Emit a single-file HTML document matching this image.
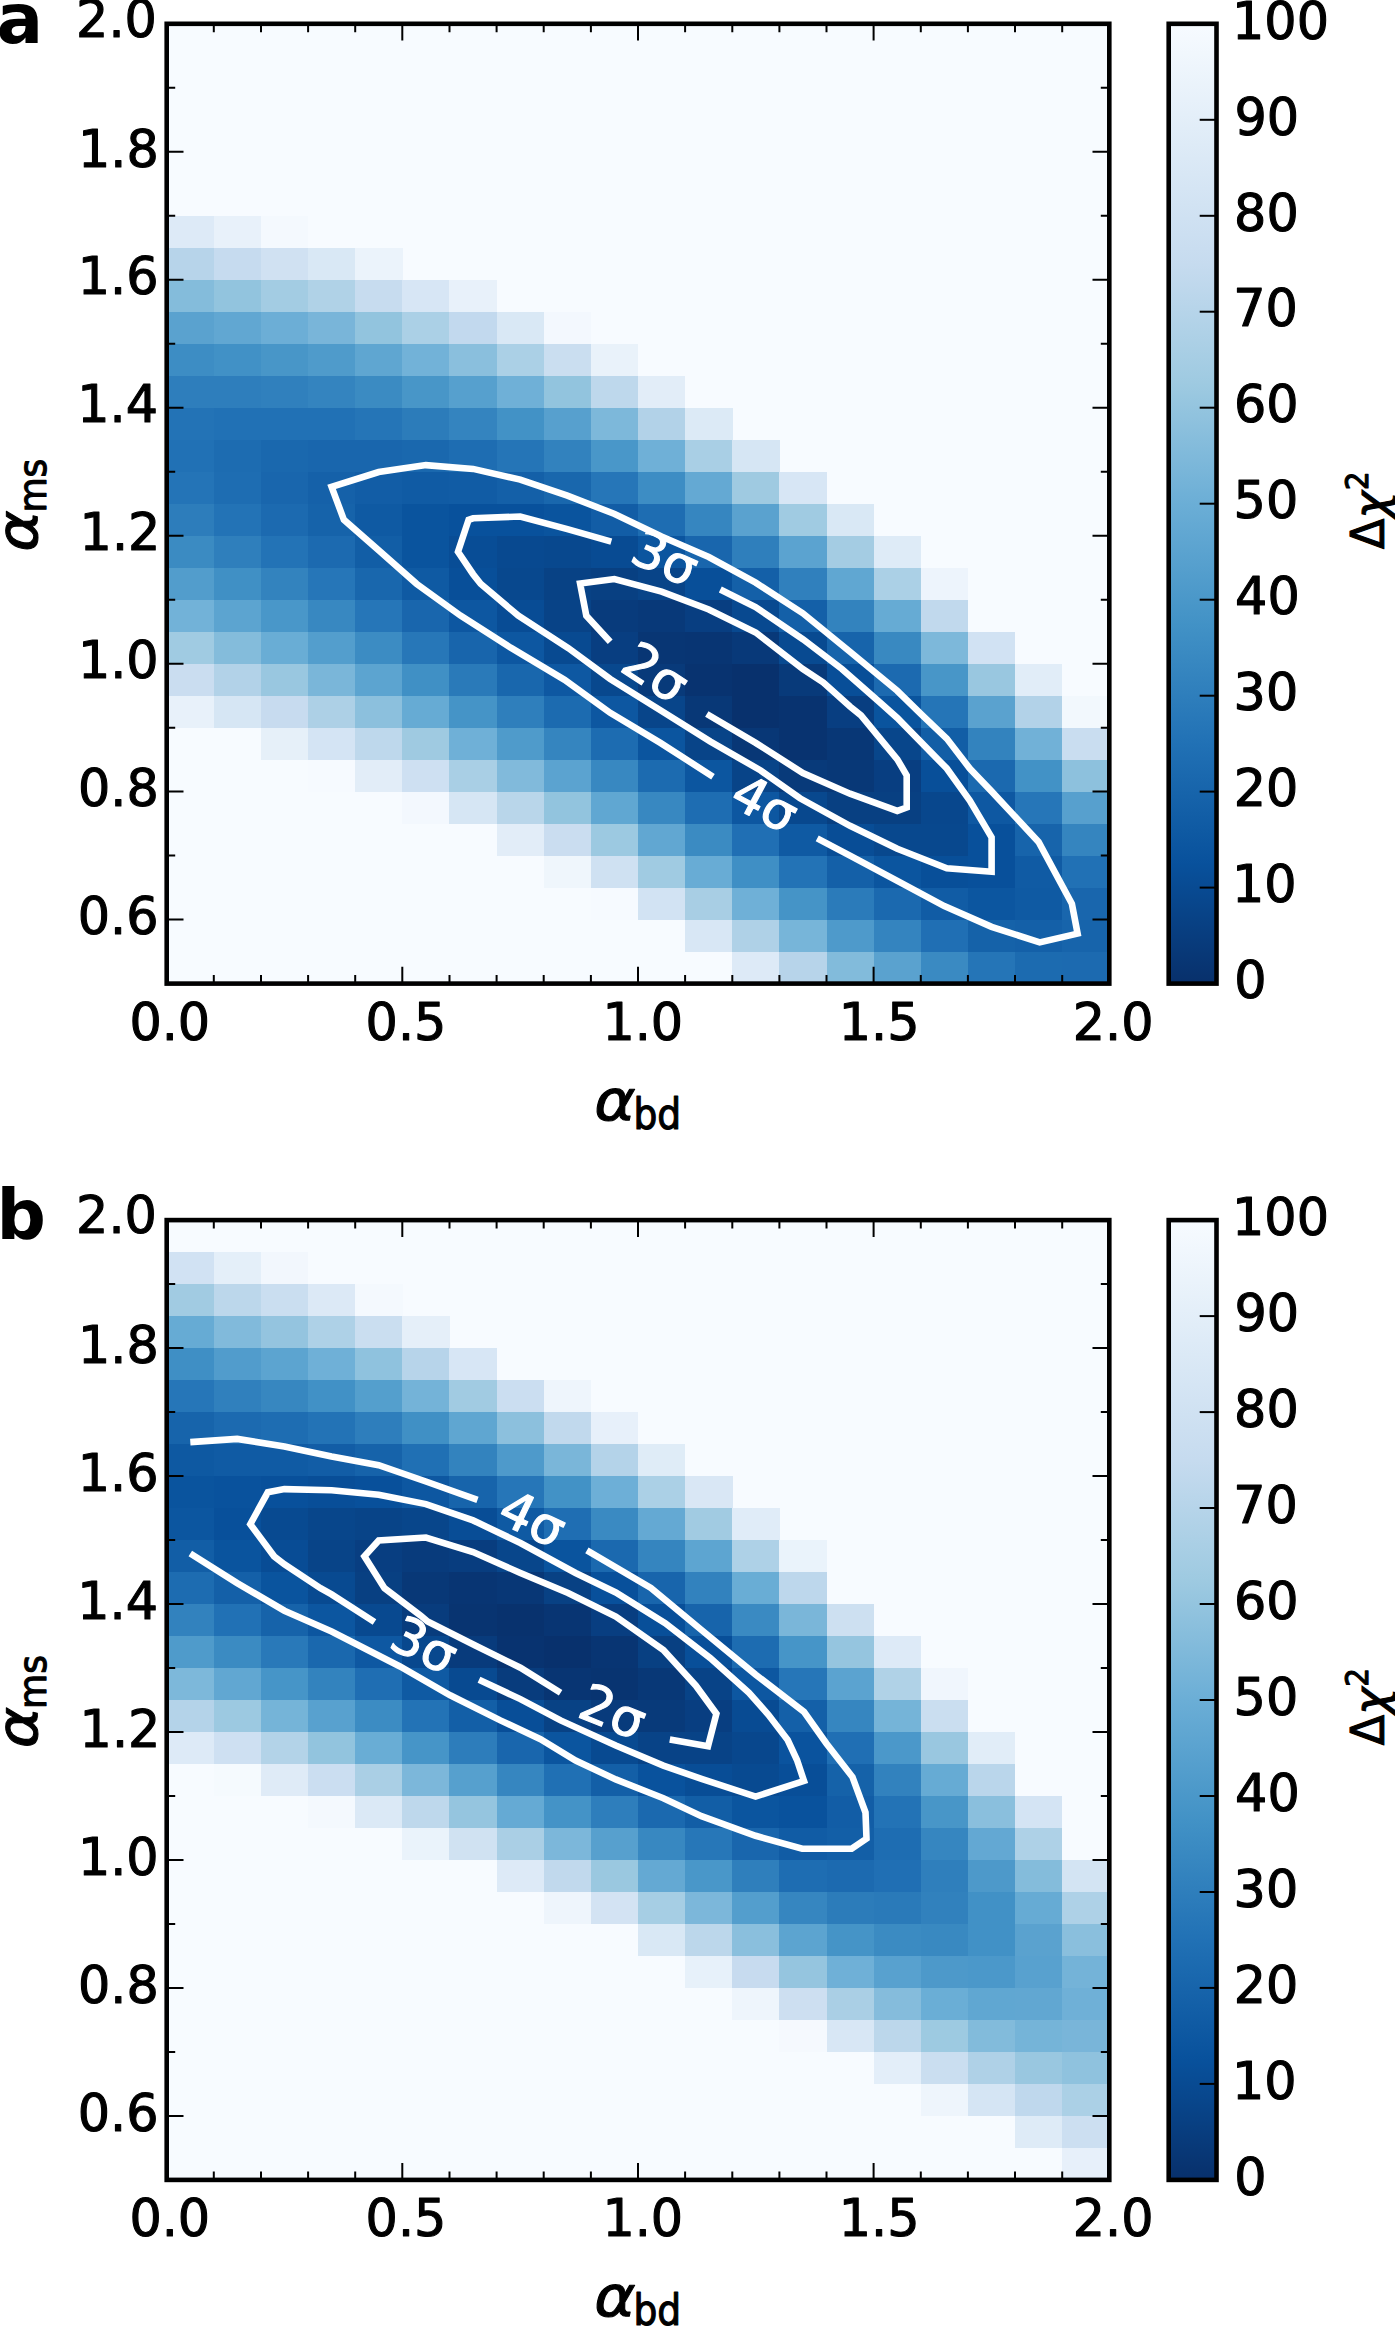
<!DOCTYPE html>
<html><head><meta charset="utf-8"><title>Delta chi2 maps</title>
<style>html,body{margin:0;padding:0;background:#fff}svg{display:block}text{font-family:"DejaVu Sans","Liberation Sans",sans-serif}</style></head><body>
<svg width="1395" height="2326" viewBox="0 0 1395 2326">
<defs><linearGradient id="cb" x1="0" y1="0" x2="0" y2="1">
<stop offset="0.0000" stop-color="#f7fbff"/>
<stop offset="0.1250" stop-color="#deebf7"/>
<stop offset="0.2500" stop-color="#c6dbef"/>
<stop offset="0.3750" stop-color="#9ecae1"/>
<stop offset="0.5000" stop-color="#6baed6"/>
<stop offset="0.6250" stop-color="#4292c6"/>
<stop offset="0.7500" stop-color="#2171b5"/>
<stop offset="0.8750" stop-color="#08519c"/>
<stop offset="1.0000" stop-color="#08306b"/>
</linearGradient></defs>
<rect width="1395" height="2326" fill="#fff"/>
<g>
<rect x="166.7" y="23.8" width="942.6" height="959.8" fill="#f7fbff"/>
<g shape-rendering="crispEdges">
<rect x="166.70" y="215.76" width="47.43" height="32.29" fill="#ddeaf7"/>
<rect x="213.83" y="215.76" width="47.43" height="32.29" fill="#e8f1fa"/>
<rect x="260.96" y="215.76" width="47.43" height="32.29" fill="#f4f9fe"/>
<rect x="166.70" y="247.75" width="47.43" height="32.29" fill="#b7d4ea"/>
<rect x="213.83" y="247.75" width="47.43" height="32.29" fill="#c6dbef"/>
<rect x="260.96" y="247.75" width="47.43" height="32.29" fill="#d0e1f2"/>
<rect x="308.09" y="247.75" width="47.43" height="32.29" fill="#d9e8f5"/>
<rect x="355.22" y="247.75" width="47.43" height="32.29" fill="#ebf3fb"/>
<rect x="166.70" y="279.75" width="47.43" height="32.29" fill="#84bcdb"/>
<rect x="213.83" y="279.75" width="47.43" height="32.29" fill="#92c4de"/>
<rect x="260.96" y="279.75" width="47.43" height="32.29" fill="#a3cce3"/>
<rect x="308.09" y="279.75" width="47.43" height="32.29" fill="#b0d2e7"/>
<rect x="355.22" y="279.75" width="47.43" height="32.29" fill="#c7dcef"/>
<rect x="402.35" y="279.75" width="47.43" height="32.29" fill="#d7e6f5"/>
<rect x="449.48" y="279.75" width="47.43" height="32.29" fill="#e8f1fa"/>
<rect x="166.70" y="311.74" width="47.43" height="32.29" fill="#5aa2cf"/>
<rect x="213.83" y="311.74" width="47.43" height="32.29" fill="#61a7d2"/>
<rect x="260.96" y="311.74" width="47.43" height="32.29" fill="#6caed6"/>
<rect x="308.09" y="311.74" width="47.43" height="32.29" fill="#79b5d9"/>
<rect x="355.22" y="311.74" width="47.43" height="32.29" fill="#92c4de"/>
<rect x="402.35" y="311.74" width="47.43" height="32.29" fill="#abd0e6"/>
<rect x="449.48" y="311.74" width="47.43" height="32.29" fill="#c2d9ee"/>
<rect x="496.61" y="311.74" width="47.43" height="32.29" fill="#d9e8f5"/>
<rect x="543.74" y="311.74" width="47.43" height="32.29" fill="#f3f8fe"/>
<rect x="166.70" y="343.73" width="47.43" height="32.29" fill="#3d8dc4"/>
<rect x="213.83" y="343.73" width="47.43" height="32.29" fill="#4191c6"/>
<rect x="260.96" y="343.73" width="47.43" height="32.29" fill="#4896c8"/>
<rect x="308.09" y="343.73" width="47.43" height="32.29" fill="#4f9bcb"/>
<rect x="355.22" y="343.73" width="47.43" height="32.29" fill="#5fa6d1"/>
<rect x="402.35" y="343.73" width="47.43" height="32.29" fill="#72b2d8"/>
<rect x="449.48" y="343.73" width="47.43" height="32.29" fill="#8abfdd"/>
<rect x="496.61" y="343.73" width="47.43" height="32.29" fill="#abd0e6"/>
<rect x="543.74" y="343.73" width="47.43" height="32.29" fill="#cadef0"/>
<rect x="590.87" y="343.73" width="47.43" height="32.29" fill="#e9f2fa"/>
<rect x="166.70" y="375.73" width="47.43" height="32.29" fill="#2e7ebc"/>
<rect x="213.83" y="375.73" width="47.43" height="32.29" fill="#2e7ebc"/>
<rect x="260.96" y="375.73" width="47.43" height="32.29" fill="#3080bd"/>
<rect x="308.09" y="375.73" width="47.43" height="32.29" fill="#3484bf"/>
<rect x="355.22" y="375.73" width="47.43" height="32.29" fill="#3b8bc2"/>
<rect x="402.35" y="375.73" width="47.43" height="32.29" fill="#4896c8"/>
<rect x="449.48" y="375.73" width="47.43" height="32.29" fill="#56a0ce"/>
<rect x="496.61" y="375.73" width="47.43" height="32.29" fill="#6fb0d7"/>
<rect x="543.74" y="375.73" width="47.43" height="32.29" fill="#92c4de"/>
<rect x="590.87" y="375.73" width="47.43" height="32.29" fill="#bed8ec"/>
<rect x="638.00" y="375.73" width="47.43" height="32.29" fill="#e2edf8"/>
<rect x="166.70" y="407.72" width="47.43" height="32.29" fill="#2373b6"/>
<rect x="213.83" y="407.72" width="47.43" height="32.29" fill="#2171b5"/>
<rect x="260.96" y="407.72" width="47.43" height="32.29" fill="#2171b5"/>
<rect x="308.09" y="407.72" width="47.43" height="32.29" fill="#2171b5"/>
<rect x="355.22" y="407.72" width="47.43" height="32.29" fill="#2575b7"/>
<rect x="402.35" y="407.72" width="47.43" height="32.29" fill="#2c7cba"/>
<rect x="449.48" y="407.72" width="47.43" height="32.29" fill="#3484bf"/>
<rect x="496.61" y="407.72" width="47.43" height="32.29" fill="#4292c6"/>
<rect x="543.74" y="407.72" width="47.43" height="32.29" fill="#57a0ce"/>
<rect x="590.87" y="407.72" width="47.43" height="32.29" fill="#7db8da"/>
<rect x="638.00" y="407.72" width="47.43" height="32.29" fill="#b2d2e8"/>
<rect x="685.13" y="407.72" width="47.43" height="32.29" fill="#dceaf6"/>
<rect x="166.70" y="439.71" width="47.43" height="32.29" fill="#2171b5"/>
<rect x="213.83" y="439.71" width="47.43" height="32.29" fill="#1d6cb1"/>
<rect x="260.96" y="439.71" width="47.43" height="32.29" fill="#1a68ae"/>
<rect x="308.09" y="439.71" width="47.43" height="32.29" fill="#1966ad"/>
<rect x="355.22" y="439.71" width="47.43" height="32.29" fill="#1966ad"/>
<rect x="402.35" y="439.71" width="47.43" height="32.29" fill="#1a68ae"/>
<rect x="449.48" y="439.71" width="47.43" height="32.29" fill="#1e6db2"/>
<rect x="496.61" y="439.71" width="47.43" height="32.29" fill="#2575b7"/>
<rect x="543.74" y="439.71" width="47.43" height="32.29" fill="#3282be"/>
<rect x="590.87" y="439.71" width="47.43" height="32.29" fill="#4997c9"/>
<rect x="638.00" y="439.71" width="47.43" height="32.29" fill="#6fb0d7"/>
<rect x="685.13" y="439.71" width="47.43" height="32.29" fill="#a9cfe5"/>
<rect x="732.26" y="439.71" width="47.43" height="32.29" fill="#d6e6f4"/>
<rect x="166.70" y="471.71" width="47.43" height="32.29" fill="#2474b7"/>
<rect x="213.83" y="471.71" width="47.43" height="32.29" fill="#1e6db2"/>
<rect x="260.96" y="471.71" width="47.43" height="32.29" fill="#1966ad"/>
<rect x="308.09" y="471.71" width="47.43" height="32.29" fill="#1561a9"/>
<rect x="355.22" y="471.71" width="47.43" height="32.29" fill="#125da6"/>
<rect x="402.35" y="471.71" width="47.43" height="32.29" fill="#105ba4"/>
<rect x="449.48" y="471.71" width="47.43" height="32.29" fill="#115ca5"/>
<rect x="496.61" y="471.71" width="47.43" height="32.29" fill="#1460a8"/>
<rect x="543.74" y="471.71" width="47.43" height="32.29" fill="#1967ad"/>
<rect x="590.87" y="471.71" width="47.43" height="32.29" fill="#2676b8"/>
<rect x="638.00" y="471.71" width="47.43" height="32.29" fill="#3d8dc4"/>
<rect x="685.13" y="471.71" width="47.43" height="32.29" fill="#64a9d3"/>
<rect x="732.26" y="471.71" width="47.43" height="32.29" fill="#9fcae1"/>
<rect x="779.39" y="471.71" width="47.43" height="32.29" fill="#d7e6f5"/>
<rect x="166.70" y="503.70" width="47.43" height="32.29" fill="#2d7dbb"/>
<rect x="213.83" y="503.70" width="47.43" height="32.29" fill="#2373b6"/>
<rect x="260.96" y="503.70" width="47.43" height="32.29" fill="#1c6ab0"/>
<rect x="308.09" y="503.70" width="47.43" height="32.29" fill="#1663aa"/>
<rect x="355.22" y="503.70" width="47.43" height="32.29" fill="#0f5aa3"/>
<rect x="402.35" y="503.70" width="47.43" height="32.29" fill="#0a549e"/>
<rect x="449.48" y="503.70" width="47.43" height="32.29" fill="#08519c"/>
<rect x="496.61" y="503.70" width="47.43" height="32.29" fill="#08519c"/>
<rect x="543.74" y="503.70" width="47.43" height="32.29" fill="#0a549e"/>
<rect x="590.87" y="503.70" width="47.43" height="32.29" fill="#125da6"/>
<rect x="638.00" y="503.70" width="47.43" height="32.29" fill="#1e6db2"/>
<rect x="685.13" y="503.70" width="47.43" height="32.29" fill="#3686c0"/>
<rect x="732.26" y="503.70" width="47.43" height="32.29" fill="#5aa2cf"/>
<rect x="779.39" y="503.70" width="47.43" height="32.29" fill="#a0cbe2"/>
<rect x="826.52" y="503.70" width="47.43" height="32.29" fill="#d9e8f5"/>
<rect x="166.70" y="535.69" width="47.43" height="32.29" fill="#3b8bc2"/>
<rect x="213.83" y="535.69" width="47.43" height="32.29" fill="#2f7fbc"/>
<rect x="260.96" y="535.69" width="47.43" height="32.29" fill="#2373b6"/>
<rect x="308.09" y="535.69" width="47.43" height="32.29" fill="#1c6ab0"/>
<rect x="355.22" y="535.69" width="47.43" height="32.29" fill="#125ea6"/>
<rect x="402.35" y="535.69" width="47.43" height="32.29" fill="#0a549e"/>
<rect x="449.48" y="535.69" width="47.43" height="32.29" fill="#084d96"/>
<rect x="496.61" y="535.69" width="47.43" height="32.29" fill="#084990"/>
<rect x="543.74" y="535.69" width="47.43" height="32.29" fill="#08488e"/>
<rect x="590.87" y="535.69" width="47.43" height="32.29" fill="#084b93"/>
<rect x="638.00" y="535.69" width="47.43" height="32.29" fill="#0b559f"/>
<rect x="685.13" y="535.69" width="47.43" height="32.29" fill="#1966ad"/>
<rect x="732.26" y="535.69" width="47.43" height="32.29" fill="#2f7fbc"/>
<rect x="779.39" y="535.69" width="47.43" height="32.29" fill="#5ba3d0"/>
<rect x="826.52" y="535.69" width="47.43" height="32.29" fill="#a4cce3"/>
<rect x="873.65" y="535.69" width="47.43" height="32.29" fill="#deebf7"/>
<rect x="166.70" y="567.69" width="47.43" height="32.29" fill="#529dcc"/>
<rect x="213.83" y="567.69" width="47.43" height="32.29" fill="#4090c5"/>
<rect x="260.96" y="567.69" width="47.43" height="32.29" fill="#3383be"/>
<rect x="308.09" y="567.69" width="47.43" height="32.29" fill="#2676b8"/>
<rect x="355.22" y="567.69" width="47.43" height="32.29" fill="#1967ad"/>
<rect x="402.35" y="567.69" width="47.43" height="32.29" fill="#0f5aa3"/>
<rect x="449.48" y="567.69" width="47.43" height="32.29" fill="#084f99"/>
<rect x="496.61" y="567.69" width="47.43" height="32.29" fill="#08488e"/>
<rect x="543.74" y="567.69" width="47.43" height="32.29" fill="#084285"/>
<rect x="590.87" y="567.69" width="47.43" height="32.29" fill="#084082"/>
<rect x="638.00" y="567.69" width="47.43" height="32.29" fill="#084488"/>
<rect x="685.13" y="567.69" width="47.43" height="32.29" fill="#084f99"/>
<rect x="732.26" y="567.69" width="47.43" height="32.29" fill="#1460a8"/>
<rect x="779.39" y="567.69" width="47.43" height="32.29" fill="#3080bd"/>
<rect x="826.52" y="567.69" width="47.43" height="32.29" fill="#60a7d2"/>
<rect x="873.65" y="567.69" width="47.43" height="32.29" fill="#abd0e6"/>
<rect x="920.78" y="567.69" width="47.43" height="32.29" fill="#edf4fc"/>
<rect x="166.70" y="599.68" width="47.43" height="32.29" fill="#72b2d8"/>
<rect x="213.83" y="599.68" width="47.43" height="32.29" fill="#5ca4d0"/>
<rect x="260.96" y="599.68" width="47.43" height="32.29" fill="#4997c9"/>
<rect x="308.09" y="599.68" width="47.43" height="32.29" fill="#3888c1"/>
<rect x="355.22" y="599.68" width="47.43" height="32.29" fill="#2676b8"/>
<rect x="402.35" y="599.68" width="47.43" height="32.29" fill="#1966ad"/>
<rect x="449.48" y="599.68" width="47.43" height="32.29" fill="#0d57a1"/>
<rect x="496.61" y="599.68" width="47.43" height="32.29" fill="#084c95"/>
<rect x="543.74" y="599.68" width="47.43" height="32.29" fill="#084387"/>
<rect x="590.87" y="599.68" width="47.43" height="32.29" fill="#083b7c"/>
<rect x="638.00" y="599.68" width="47.43" height="32.29" fill="#083979"/>
<rect x="685.13" y="599.68" width="47.43" height="32.29" fill="#083e81"/>
<rect x="732.26" y="599.68" width="47.43" height="32.29" fill="#084990"/>
<rect x="779.39" y="599.68" width="47.43" height="32.29" fill="#1460a8"/>
<rect x="826.52" y="599.68" width="47.43" height="32.29" fill="#3383be"/>
<rect x="873.65" y="599.68" width="47.43" height="32.29" fill="#66abd4"/>
<rect x="920.78" y="599.68" width="47.43" height="32.29" fill="#c1d9ed"/>
<rect x="166.70" y="631.67" width="47.43" height="32.29" fill="#a0cbe2"/>
<rect x="213.83" y="631.67" width="47.43" height="32.29" fill="#84bcdb"/>
<rect x="260.96" y="631.67" width="47.43" height="32.29" fill="#69add5"/>
<rect x="308.09" y="631.67" width="47.43" height="32.29" fill="#539ecd"/>
<rect x="355.22" y="631.67" width="47.43" height="32.29" fill="#3c8cc3"/>
<rect x="402.35" y="631.67" width="47.43" height="32.29" fill="#2777b8"/>
<rect x="449.48" y="631.67" width="47.43" height="32.29" fill="#1865ac"/>
<rect x="496.61" y="631.67" width="47.43" height="32.29" fill="#0d57a1"/>
<rect x="543.74" y="631.67" width="47.43" height="32.29" fill="#084a91"/>
<rect x="590.87" y="631.67" width="47.43" height="32.29" fill="#083e81"/>
<rect x="638.00" y="631.67" width="47.43" height="32.29" fill="#083674"/>
<rect x="685.13" y="631.67" width="47.43" height="32.29" fill="#083573"/>
<rect x="732.26" y="631.67" width="47.43" height="32.29" fill="#083979"/>
<rect x="779.39" y="631.67" width="47.43" height="32.29" fill="#084a91"/>
<rect x="826.52" y="631.67" width="47.43" height="32.29" fill="#1764ab"/>
<rect x="873.65" y="631.67" width="47.43" height="32.29" fill="#3989c1"/>
<rect x="920.78" y="631.67" width="47.43" height="32.29" fill="#7db8da"/>
<rect x="967.91" y="631.67" width="47.43" height="32.29" fill="#d1e2f3"/>
<rect x="166.70" y="663.67" width="47.43" height="32.29" fill="#caddf0"/>
<rect x="213.83" y="663.67" width="47.43" height="32.29" fill="#b2d2e8"/>
<rect x="260.96" y="663.67" width="47.43" height="32.29" fill="#99c7e0"/>
<rect x="308.09" y="663.67" width="47.43" height="32.29" fill="#7ab6d9"/>
<rect x="355.22" y="663.67" width="47.43" height="32.29" fill="#5ca4d0"/>
<rect x="402.35" y="663.67" width="47.43" height="32.29" fill="#4090c5"/>
<rect x="449.48" y="663.67" width="47.43" height="32.29" fill="#2a7ab9"/>
<rect x="496.61" y="663.67" width="47.43" height="32.29" fill="#1967ad"/>
<rect x="543.74" y="663.67" width="47.43" height="32.29" fill="#0e58a2"/>
<rect x="590.87" y="663.67" width="47.43" height="32.29" fill="#08488e"/>
<rect x="638.00" y="663.67" width="47.43" height="32.29" fill="#083a7a"/>
<rect x="685.13" y="663.67" width="47.43" height="32.29" fill="#083370"/>
<rect x="732.26" y="663.67" width="47.43" height="32.29" fill="#08316d"/>
<rect x="779.39" y="663.67" width="47.43" height="32.29" fill="#083a7a"/>
<rect x="826.52" y="663.67" width="47.43" height="32.29" fill="#084e98"/>
<rect x="873.65" y="663.67" width="47.43" height="32.29" fill="#1c6ab0"/>
<rect x="920.78" y="663.67" width="47.43" height="32.29" fill="#4896c8"/>
<rect x="967.91" y="663.67" width="47.43" height="32.29" fill="#99c7e0"/>
<rect x="1015.04" y="663.67" width="47.43" height="32.29" fill="#e1edf8"/>
<rect x="166.70" y="695.66" width="47.43" height="32.29" fill="#e8f1fa"/>
<rect x="213.83" y="695.66" width="47.43" height="32.29" fill="#d6e6f4"/>
<rect x="260.96" y="695.66" width="47.43" height="32.29" fill="#c7dbef"/>
<rect x="308.09" y="695.66" width="47.43" height="32.29" fill="#add0e6"/>
<rect x="355.22" y="695.66" width="47.43" height="32.29" fill="#8cc0dd"/>
<rect x="402.35" y="695.66" width="47.43" height="32.29" fill="#66abd4"/>
<rect x="449.48" y="695.66" width="47.43" height="32.29" fill="#4594c7"/>
<rect x="496.61" y="695.66" width="47.43" height="32.29" fill="#2f7fbc"/>
<rect x="543.74" y="695.66" width="47.43" height="32.29" fill="#1c6bb0"/>
<rect x="590.87" y="695.66" width="47.43" height="32.29" fill="#0d57a1"/>
<rect x="638.00" y="695.66" width="47.43" height="32.29" fill="#08458a"/>
<rect x="685.13" y="695.66" width="47.43" height="32.29" fill="#083877"/>
<rect x="732.26" y="695.66" width="47.43" height="32.29" fill="#08316d"/>
<rect x="779.39" y="695.66" width="47.43" height="32.29" fill="#083370"/>
<rect x="826.52" y="695.66" width="47.43" height="32.29" fill="#083e81"/>
<rect x="873.65" y="695.66" width="47.43" height="32.29" fill="#0a549e"/>
<rect x="920.78" y="695.66" width="47.43" height="32.29" fill="#2575b7"/>
<rect x="967.91" y="695.66" width="47.43" height="32.29" fill="#5aa2cf"/>
<rect x="1015.04" y="695.66" width="47.43" height="32.29" fill="#b2d2e8"/>
<rect x="1062.17" y="695.66" width="47.43" height="32.29" fill="#f2f8fd"/>
<rect x="260.96" y="727.65" width="47.43" height="32.29" fill="#e6f0f9"/>
<rect x="308.09" y="727.65" width="47.43" height="32.29" fill="#d4e4f4"/>
<rect x="355.22" y="727.65" width="47.43" height="32.29" fill="#bed8ec"/>
<rect x="402.35" y="727.65" width="47.43" height="32.29" fill="#9fcae1"/>
<rect x="449.48" y="727.65" width="47.43" height="32.29" fill="#6fb0d7"/>
<rect x="496.61" y="727.65" width="47.43" height="32.29" fill="#4f9bcb"/>
<rect x="543.74" y="727.65" width="47.43" height="32.29" fill="#3585bf"/>
<rect x="590.87" y="727.65" width="47.43" height="32.29" fill="#1d6cb1"/>
<rect x="638.00" y="727.65" width="47.43" height="32.29" fill="#0b559f"/>
<rect x="685.13" y="727.65" width="47.43" height="32.29" fill="#084488"/>
<rect x="732.26" y="727.65" width="47.43" height="32.29" fill="#083776"/>
<rect x="779.39" y="727.65" width="47.43" height="32.29" fill="#083370"/>
<rect x="826.52" y="727.65" width="47.43" height="32.29" fill="#083776"/>
<rect x="873.65" y="727.65" width="47.43" height="32.29" fill="#08468b"/>
<rect x="920.78" y="727.65" width="47.43" height="32.29" fill="#125ea6"/>
<rect x="967.91" y="727.65" width="47.43" height="32.29" fill="#3383be"/>
<rect x="1015.04" y="727.65" width="47.43" height="32.29" fill="#71b1d7"/>
<rect x="1062.17" y="727.65" width="47.43" height="32.29" fill="#c9ddf0"/>
<rect x="308.09" y="759.65" width="47.43" height="32.29" fill="#f6faff"/>
<rect x="355.22" y="759.65" width="47.43" height="32.29" fill="#e2edf8"/>
<rect x="402.35" y="759.65" width="47.43" height="32.29" fill="#cee0f2"/>
<rect x="449.48" y="759.65" width="47.43" height="32.29" fill="#a9cfe5"/>
<rect x="496.61" y="759.65" width="47.43" height="32.29" fill="#81badb"/>
<rect x="543.74" y="759.65" width="47.43" height="32.29" fill="#5ba3d0"/>
<rect x="590.87" y="759.65" width="47.43" height="32.29" fill="#3888c1"/>
<rect x="638.00" y="759.65" width="47.43" height="32.29" fill="#1c6bb0"/>
<rect x="685.13" y="759.65" width="47.43" height="32.29" fill="#0c56a0"/>
<rect x="732.26" y="759.65" width="47.43" height="32.29" fill="#084488"/>
<rect x="779.39" y="759.65" width="47.43" height="32.29" fill="#083a7a"/>
<rect x="826.52" y="759.65" width="47.43" height="32.29" fill="#083877"/>
<rect x="873.65" y="759.65" width="47.43" height="32.29" fill="#083e81"/>
<rect x="920.78" y="759.65" width="47.43" height="32.29" fill="#084f99"/>
<rect x="967.91" y="759.65" width="47.43" height="32.29" fill="#1b69af"/>
<rect x="1015.04" y="759.65" width="47.43" height="32.29" fill="#4292c6"/>
<rect x="1062.17" y="759.65" width="47.43" height="32.29" fill="#8dc1dd"/>
<rect x="402.35" y="791.64" width="47.43" height="32.29" fill="#f3f8fe"/>
<rect x="449.48" y="791.64" width="47.43" height="32.29" fill="#d6e6f4"/>
<rect x="496.61" y="791.64" width="47.43" height="32.29" fill="#b9d6ea"/>
<rect x="543.74" y="791.64" width="47.43" height="32.29" fill="#92c4de"/>
<rect x="590.87" y="791.64" width="47.43" height="32.29" fill="#60a7d2"/>
<rect x="638.00" y="791.64" width="47.43" height="32.29" fill="#3888c1"/>
<rect x="685.13" y="791.64" width="47.43" height="32.29" fill="#1e6db2"/>
<rect x="732.26" y="791.64" width="47.43" height="32.29" fill="#0d57a1"/>
<rect x="779.39" y="791.64" width="47.43" height="32.29" fill="#08488e"/>
<rect x="826.52" y="791.64" width="47.43" height="32.29" fill="#084082"/>
<rect x="873.65" y="791.64" width="47.43" height="32.29" fill="#084082"/>
<rect x="920.78" y="791.64" width="47.43" height="32.29" fill="#08478d"/>
<rect x="967.91" y="791.64" width="47.43" height="32.29" fill="#0e58a2"/>
<rect x="1015.04" y="791.64" width="47.43" height="32.29" fill="#2676b8"/>
<rect x="1062.17" y="791.64" width="47.43" height="32.29" fill="#57a0ce"/>
<rect x="496.61" y="823.63" width="47.43" height="32.29" fill="#e2edf8"/>
<rect x="543.74" y="823.63" width="47.43" height="32.29" fill="#caddf0"/>
<rect x="590.87" y="823.63" width="47.43" height="32.29" fill="#9cc9e1"/>
<rect x="638.00" y="823.63" width="47.43" height="32.29" fill="#61a7d2"/>
<rect x="685.13" y="823.63" width="47.43" height="32.29" fill="#3b8bc2"/>
<rect x="732.26" y="823.63" width="47.43" height="32.29" fill="#206fb4"/>
<rect x="779.39" y="823.63" width="47.43" height="32.29" fill="#0f5aa3"/>
<rect x="826.52" y="823.63" width="47.43" height="32.29" fill="#084d96"/>
<rect x="873.65" y="823.63" width="47.43" height="32.29" fill="#08488e"/>
<rect x="920.78" y="823.63" width="47.43" height="32.29" fill="#08488e"/>
<rect x="967.91" y="823.63" width="47.43" height="32.29" fill="#08509b"/>
<rect x="1015.04" y="823.63" width="47.43" height="32.29" fill="#1764ab"/>
<rect x="1062.17" y="823.63" width="47.43" height="32.29" fill="#3585bf"/>
<rect x="543.74" y="855.63" width="47.43" height="32.29" fill="#eff6fc"/>
<rect x="590.87" y="855.63" width="47.43" height="32.29" fill="#cfe1f2"/>
<rect x="638.00" y="855.63" width="47.43" height="32.29" fill="#a0cbe2"/>
<rect x="685.13" y="855.63" width="47.43" height="32.29" fill="#68acd5"/>
<rect x="732.26" y="855.63" width="47.43" height="32.29" fill="#3f8fc5"/>
<rect x="779.39" y="855.63" width="47.43" height="32.29" fill="#2373b6"/>
<rect x="826.52" y="855.63" width="47.43" height="32.29" fill="#1460a8"/>
<rect x="873.65" y="855.63" width="47.43" height="32.29" fill="#0b559f"/>
<rect x="920.78" y="855.63" width="47.43" height="32.29" fill="#084f99"/>
<rect x="967.91" y="855.63" width="47.43" height="32.29" fill="#08509b"/>
<rect x="1015.04" y="855.63" width="47.43" height="32.29" fill="#105ba4"/>
<rect x="1062.17" y="855.63" width="47.43" height="32.29" fill="#2171b5"/>
<rect x="590.87" y="887.62" width="47.43" height="32.29" fill="#f6faff"/>
<rect x="638.00" y="887.62" width="47.43" height="32.29" fill="#d2e3f3"/>
<rect x="685.13" y="887.62" width="47.43" height="32.29" fill="#a8cee4"/>
<rect x="732.26" y="887.62" width="47.43" height="32.29" fill="#6fb0d7"/>
<rect x="779.39" y="887.62" width="47.43" height="32.29" fill="#4594c7"/>
<rect x="826.52" y="887.62" width="47.43" height="32.29" fill="#2b7bba"/>
<rect x="873.65" y="887.62" width="47.43" height="32.29" fill="#1b69af"/>
<rect x="920.78" y="887.62" width="47.43" height="32.29" fill="#115ca5"/>
<rect x="967.91" y="887.62" width="47.43" height="32.29" fill="#0c56a0"/>
<rect x="1015.04" y="887.62" width="47.43" height="32.29" fill="#0f5aa3"/>
<rect x="1062.17" y="887.62" width="47.43" height="32.29" fill="#1966ad"/>
<rect x="685.13" y="919.61" width="47.43" height="32.29" fill="#d8e7f5"/>
<rect x="732.26" y="919.61" width="47.43" height="32.29" fill="#afd1e7"/>
<rect x="779.39" y="919.61" width="47.43" height="32.29" fill="#77b5d9"/>
<rect x="826.52" y="919.61" width="47.43" height="32.29" fill="#4e9acb"/>
<rect x="873.65" y="919.61" width="47.43" height="32.29" fill="#3484bf"/>
<rect x="920.78" y="919.61" width="47.43" height="32.29" fill="#206fb4"/>
<rect x="967.91" y="919.61" width="47.43" height="32.29" fill="#1562a9"/>
<rect x="1015.04" y="919.61" width="47.43" height="32.29" fill="#1460a8"/>
<rect x="1062.17" y="919.61" width="47.43" height="32.29" fill="#1764ab"/>
<rect x="732.26" y="951.61" width="47.43" height="32.29" fill="#ddeaf7"/>
<rect x="779.39" y="951.61" width="47.43" height="32.29" fill="#b7d4ea"/>
<rect x="826.52" y="951.61" width="47.43" height="32.29" fill="#82bbdb"/>
<rect x="873.65" y="951.61" width="47.43" height="32.29" fill="#5aa2cf"/>
<rect x="920.78" y="951.61" width="47.43" height="32.29" fill="#3a8ac2"/>
<rect x="967.91" y="951.61" width="47.43" height="32.29" fill="#2575b7"/>
<rect x="1015.04" y="951.61" width="47.43" height="32.29" fill="#1c6bb0"/>
<rect x="1062.17" y="951.61" width="47.43" height="32.29" fill="#1c6ab0"/>
</g>
<g fill="none" stroke="#fff" stroke-width="6.6" stroke-linejoin="miter" stroke-linecap="butt">
<polyline points="713.0,776.7 660.4,742.9 610.2,712.8 564.6,679.8 510.7,647.7 460.5,615.6 416.6,583.8 379.5,551.1 343.9,519.8 331.6,486.9 378.7,472.1 425.9,465.1 473.1,468.9 520.2,479.6 567.4,495.7 614.6,514.0 661.5,536.5 708.8,557.0 755.7,582.7 802.9,613.3 850.0,651.8 897.2,690.8 921.6,714.6 946.8,738.6 969.8,768.5 991.6,791.4 1038.6,841.9 1071.9,903.8 1077.6,933.6 1039.7,942.4 991.6,926.8 944.3,906.1 897.3,880.9 850.0,855.6 817.2,838.4"/>
<polyline points="720.3,589.5 755.5,607.1 803.2,639.4 841.9,669.0 880.0,702.6 897.3,718.0 946.8,768.5 969.8,800.6 991.6,837.3 991.6,871.7 946.8,868.3 897.3,848.8 850.0,825.8 800.0,798.3 760.7,770.5 710.5,741.6 660.4,710.2 610.2,679.0 568.4,648.2 518.2,615.6 480.6,583.8 473.1,574.2 458.0,551.8 468.6,519.8 473.1,518.3 520.2,516.5 567.4,529.1 611.3,541.6"/>
<polyline points="706.8,714.0 755.7,742.9 802.9,773.0 850.0,793.7 897.3,810.9 906.7,807.5 906.7,775.4 897.3,759.3 861.0,715.3 850.0,706.5 823.4,682.6 802.9,669.0 755.7,632.5 708.8,609.5 661.6,591.6 614.4,579.1 580.1,583.6 586.3,615.7 610.2,641.8"/>
</g>
<text x="765.1" y="822.0" transform="rotate(28 766.3 803.3)" font-size="51.5" fill="#fff" stroke="#fff" stroke-width="1.1" stroke-linejoin="round" text-anchor="middle">4σ</text>
<text x="665.4" y="576.5" transform="rotate(24 666.6 557.8)" font-size="51.5" fill="#fff" stroke="#fff" stroke-width="1.1" stroke-linejoin="round" text-anchor="middle">3σ</text>
<text x="655.6" y="691.2" transform="rotate(33 656.8 672.5)" font-size="51.5" fill="#fff" stroke="#fff" stroke-width="1.1" stroke-linejoin="round" text-anchor="middle">2σ</text>
<g stroke="#000" stroke-width="2" fill="none">
<path d="M213.8 983.6v-8.5M213.8 23.8v8.5"/>
<path d="M261.0 983.6v-8.5M261.0 23.8v8.5"/>
<path d="M308.1 983.6v-8.5M308.1 23.8v8.5"/>
<path d="M355.2 983.6v-8.5M355.2 23.8v8.5"/>
<path d="M402.3 983.6v-16.8M402.3 23.8v16.8"/>
<path d="M449.5 983.6v-8.5M449.5 23.8v8.5"/>
<path d="M496.6 983.6v-8.5M496.6 23.8v8.5"/>
<path d="M543.7 983.6v-8.5M543.7 23.8v8.5"/>
<path d="M590.9 983.6v-8.5M590.9 23.8v8.5"/>
<path d="M638.0 983.6v-16.8M638.0 23.8v16.8"/>
<path d="M685.1 983.6v-8.5M685.1 23.8v8.5"/>
<path d="M732.3 983.6v-8.5M732.3 23.8v8.5"/>
<path d="M779.4 983.6v-8.5M779.4 23.8v8.5"/>
<path d="M826.5 983.6v-8.5M826.5 23.8v8.5"/>
<path d="M873.6 983.6v-16.8M873.6 23.8v16.8"/>
<path d="M920.8 983.6v-8.5M920.8 23.8v8.5"/>
<path d="M967.9 983.6v-8.5M967.9 23.8v8.5"/>
<path d="M1015.0 983.6v-8.5M1015.0 23.8v8.5"/>
<path d="M1062.2 983.6v-8.5M1062.2 23.8v8.5"/>
<path d="M166.7 919.6h16.8M1109.3 919.6h-16.8"/>
<path d="M166.7 855.6h8.5M1109.3 855.6h-8.5"/>
<path d="M166.7 791.6h16.8M1109.3 791.6h-16.8"/>
<path d="M166.7 727.7h8.5M1109.3 727.7h-8.5"/>
<path d="M166.7 663.7h16.8M1109.3 663.7h-16.8"/>
<path d="M166.7 599.7h8.5M1109.3 599.7h-8.5"/>
<path d="M166.7 535.7h16.8M1109.3 535.7h-16.8"/>
<path d="M166.7 471.7h8.5M1109.3 471.7h-8.5"/>
<path d="M166.7 407.7h16.8M1109.3 407.7h-16.8"/>
<path d="M166.7 343.7h8.5M1109.3 343.7h-8.5"/>
<path d="M166.7 279.7h16.8M1109.3 279.7h-16.8"/>
<path d="M166.7 215.8h8.5M1109.3 215.8h-8.5"/>
<path d="M166.7 151.8h16.8M1109.3 151.8h-16.8"/>
<path d="M166.7 87.8h8.5M1109.3 87.8h-8.5"/>
</g>
<rect x="166.7" y="23.8" width="942.6" height="959.8" fill="none" stroke="#000" stroke-width="4.6"/>
<g font-size="50.8" fill="#000" stroke="#000" stroke-width="1.1" stroke-linejoin="round">
<text x="129.4" y="1039.9">0.0</text>
<text x="365.6" y="1039.9">0.5</text>
<text x="602.4" y="1039.9">1.0</text>
<text x="838.7" y="1039.9">1.5</text>
<text x="1072.8" y="1039.9">2.0</text>
<text x="77.7" y="934.3">0.6</text>
<text x="78.0" y="806.3">0.8</text>
<text x="77.9" y="678.4">1.0</text>
<text x="79.6" y="550.4">1.2</text>
<text x="77.3" y="422.4">1.4</text>
<text x="77.7" y="294.4">1.6</text>
<text x="78.0" y="166.5">1.8</text>
<text x="76.1" y="37.0">2.0</text>
</g>
<text transform="translate(594.33 1119.61) scale(0.6267 0.5596)" font-size="100" fill="#000" stroke="#000" stroke-width="1.85" stroke-linejoin="round" style="font-style:oblique">α</text>
<text transform="translate(633.46 1128.62) scale(0.3761 0.4181)" font-size="100" fill="#000" stroke="#000" stroke-width="2.77" stroke-linejoin="round" style="">bd</text>
<text transform="translate(36.51 551.87) rotate(-90) scale(0.6267 0.5596)" font-size="100" fill="#000" stroke="#000" stroke-width="1.85" stroke-linejoin="round" style="font-style:oblique">α</text>
<text transform="translate(45.77 512.60) rotate(-90) scale(0.3609 0.3878)" font-size="100" fill="#000" stroke="#000" stroke-width="2.94" stroke-linejoin="round" style="">ms</text>
<text x="-3.4" y="42.9" font-size="69" font-weight="bold" fill="#000">a</text>
<rect x="1168.7" y="23.8" width="47.8" height="959.8" fill="url(#cb)" stroke="#000" stroke-width="4.6"/>
<g stroke="#000" stroke-width="2">
<path d="M1216.5 887.6h-16.8"/>
<path d="M1216.5 791.6h-16.8"/>
<path d="M1216.5 695.7h-16.8"/>
<path d="M1216.5 599.7h-16.8"/>
<path d="M1216.5 503.7h-16.8"/>
<path d="M1216.5 407.7h-16.8"/>
<path d="M1216.5 311.7h-16.8"/>
<path d="M1216.5 215.8h-16.8"/>
<path d="M1216.5 119.8h-16.8"/>
</g>
<g font-size="50.8" fill="#000" stroke="#000" stroke-width="1.1" stroke-linejoin="round">
<text x="1234.2" y="998.3">0</text>
<text x="1232.0" y="902.3">10</text>
<text x="1233.8" y="806.3">20</text>
<text x="1233.6" y="710.4">30</text>
<text x="1235.1" y="614.4">40</text>
<text x="1233.6" y="518.4">50</text>
<text x="1234.0" y="422.4">60</text>
<text x="1233.3" y="326.4">70</text>
<text x="1234.1" y="230.5">80</text>
<text x="1234.4" y="134.5">90</text>
<text x="1232.0" y="38.5">100</text>
</g>
<text transform="translate(1383.75 548.90) rotate(-90) scale(0.4451 0.4575)" font-size="100" fill="#000" stroke="#000" stroke-width="2.44" stroke-linejoin="round" style="">Δ</text>
<text transform="translate(1387 518.5) rotate(-90)" font-size="46" fill="#000" stroke="#000" stroke-width="1.1" style="font-style:oblique">χ</text>
<text transform="translate(1367.55 490.37) rotate(-90) scale(0.2957 0.3203)" font-size="100" fill="#000" stroke="#000" stroke-width="3.57" stroke-linejoin="round" style="">2</text>
</g>
<g>
<rect x="166.7" y="1220.1" width="942.6" height="959.8" fill="#f7fbff"/>
<g shape-rendering="crispEdges">
<rect x="166.70" y="1252.09" width="47.43" height="32.29" fill="#d1e2f3"/>
<rect x="213.83" y="1252.09" width="47.43" height="32.29" fill="#e4eff9"/>
<rect x="260.96" y="1252.09" width="47.43" height="32.29" fill="#f2f7fd"/>
<rect x="166.70" y="1284.09" width="47.43" height="32.29" fill="#a1cbe2"/>
<rect x="213.83" y="1284.09" width="47.43" height="32.29" fill="#bcd7eb"/>
<rect x="260.96" y="1284.09" width="47.43" height="32.29" fill="#cadef0"/>
<rect x="308.09" y="1284.09" width="47.43" height="32.29" fill="#dce9f6"/>
<rect x="355.22" y="1284.09" width="47.43" height="32.29" fill="#f4f9fe"/>
<rect x="166.70" y="1316.08" width="47.43" height="32.29" fill="#66abd4"/>
<rect x="213.83" y="1316.08" width="47.43" height="32.29" fill="#81badb"/>
<rect x="260.96" y="1316.08" width="47.43" height="32.29" fill="#94c4df"/>
<rect x="308.09" y="1316.08" width="47.43" height="32.29" fill="#aed1e7"/>
<rect x="355.22" y="1316.08" width="47.43" height="32.29" fill="#cadef0"/>
<rect x="402.35" y="1316.08" width="47.43" height="32.29" fill="#e5eff9"/>
<rect x="166.70" y="1348.07" width="47.43" height="32.29" fill="#3f8fc5"/>
<rect x="213.83" y="1348.07" width="47.43" height="32.29" fill="#519ccc"/>
<rect x="260.96" y="1348.07" width="47.43" height="32.29" fill="#5ca4d0"/>
<rect x="308.09" y="1348.07" width="47.43" height="32.29" fill="#6fb0d7"/>
<rect x="355.22" y="1348.07" width="47.43" height="32.29" fill="#8fc2de"/>
<rect x="402.35" y="1348.07" width="47.43" height="32.29" fill="#b7d4ea"/>
<rect x="449.48" y="1348.07" width="47.43" height="32.29" fill="#d7e6f5"/>
<rect x="166.70" y="1380.07" width="47.43" height="32.29" fill="#2676b8"/>
<rect x="213.83" y="1380.07" width="47.43" height="32.29" fill="#3080bd"/>
<rect x="260.96" y="1380.07" width="47.43" height="32.29" fill="#3787c0"/>
<rect x="308.09" y="1380.07" width="47.43" height="32.29" fill="#4191c6"/>
<rect x="355.22" y="1380.07" width="47.43" height="32.29" fill="#549fcd"/>
<rect x="402.35" y="1380.07" width="47.43" height="32.29" fill="#74b3d8"/>
<rect x="449.48" y="1380.07" width="47.43" height="32.29" fill="#a1cbe2"/>
<rect x="496.61" y="1380.07" width="47.43" height="32.29" fill="#cbdef1"/>
<rect x="543.74" y="1380.07" width="47.43" height="32.29" fill="#eef5fc"/>
<rect x="166.70" y="1412.06" width="47.43" height="32.29" fill="#1764ab"/>
<rect x="213.83" y="1412.06" width="47.43" height="32.29" fill="#1c6ab0"/>
<rect x="260.96" y="1412.06" width="47.43" height="32.29" fill="#1e6db2"/>
<rect x="308.09" y="1412.06" width="47.43" height="32.29" fill="#2373b6"/>
<rect x="355.22" y="1412.06" width="47.43" height="32.29" fill="#2e7ebc"/>
<rect x="402.35" y="1412.06" width="47.43" height="32.29" fill="#4090c5"/>
<rect x="449.48" y="1412.06" width="47.43" height="32.29" fill="#5fa6d1"/>
<rect x="496.61" y="1412.06" width="47.43" height="32.29" fill="#8cc0dd"/>
<rect x="543.74" y="1412.06" width="47.43" height="32.29" fill="#c1d9ed"/>
<rect x="590.87" y="1412.06" width="47.43" height="32.29" fill="#e7f0fa"/>
<rect x="166.70" y="1444.05" width="47.43" height="32.29" fill="#0e59a2"/>
<rect x="213.83" y="1444.05" width="47.43" height="32.29" fill="#105ba4"/>
<rect x="260.96" y="1444.05" width="47.43" height="32.29" fill="#105ba4"/>
<rect x="308.09" y="1444.05" width="47.43" height="32.29" fill="#125da6"/>
<rect x="355.22" y="1444.05" width="47.43" height="32.29" fill="#1663aa"/>
<rect x="402.35" y="1444.05" width="47.43" height="32.29" fill="#2070b4"/>
<rect x="449.48" y="1444.05" width="47.43" height="32.29" fill="#3383be"/>
<rect x="496.61" y="1444.05" width="47.43" height="32.29" fill="#4e9acb"/>
<rect x="543.74" y="1444.05" width="47.43" height="32.29" fill="#7ab6d9"/>
<rect x="590.87" y="1444.05" width="47.43" height="32.29" fill="#b4d3e9"/>
<rect x="638.00" y="1444.05" width="47.43" height="32.29" fill="#dfecf7"/>
<rect x="166.70" y="1476.05" width="47.43" height="32.29" fill="#0a549e"/>
<rect x="213.83" y="1476.05" width="47.43" height="32.29" fill="#09529d"/>
<rect x="260.96" y="1476.05" width="47.43" height="32.29" fill="#08509b"/>
<rect x="308.09" y="1476.05" width="47.43" height="32.29" fill="#084e98"/>
<rect x="355.22" y="1476.05" width="47.43" height="32.29" fill="#08509b"/>
<rect x="402.35" y="1476.05" width="47.43" height="32.29" fill="#0d57a1"/>
<rect x="449.48" y="1476.05" width="47.43" height="32.29" fill="#1764ab"/>
<rect x="496.61" y="1476.05" width="47.43" height="32.29" fill="#2676b8"/>
<rect x="543.74" y="1476.05" width="47.43" height="32.29" fill="#4292c6"/>
<rect x="590.87" y="1476.05" width="47.43" height="32.29" fill="#6dafd7"/>
<rect x="638.00" y="1476.05" width="47.43" height="32.29" fill="#abd0e6"/>
<rect x="685.13" y="1476.05" width="47.43" height="32.29" fill="#d9e7f5"/>
<rect x="166.70" y="1508.04" width="47.43" height="32.29" fill="#0c56a0"/>
<rect x="213.83" y="1508.04" width="47.43" height="32.29" fill="#08509b"/>
<rect x="260.96" y="1508.04" width="47.43" height="32.29" fill="#084a91"/>
<rect x="308.09" y="1508.04" width="47.43" height="32.29" fill="#08468b"/>
<rect x="355.22" y="1508.04" width="47.43" height="32.29" fill="#084488"/>
<rect x="402.35" y="1508.04" width="47.43" height="32.29" fill="#08468b"/>
<rect x="449.48" y="1508.04" width="47.43" height="32.29" fill="#084d96"/>
<rect x="496.61" y="1508.04" width="47.43" height="32.29" fill="#0f5aa3"/>
<rect x="543.74" y="1508.04" width="47.43" height="32.29" fill="#1f6eb3"/>
<rect x="590.87" y="1508.04" width="47.43" height="32.29" fill="#3a8ac2"/>
<rect x="638.00" y="1508.04" width="47.43" height="32.29" fill="#64a9d3"/>
<rect x="685.13" y="1508.04" width="47.43" height="32.29" fill="#a1cbe2"/>
<rect x="732.26" y="1508.04" width="47.43" height="32.29" fill="#e0ecf8"/>
<rect x="166.70" y="1540.03" width="47.43" height="32.29" fill="#125ea6"/>
<rect x="213.83" y="1540.03" width="47.43" height="32.29" fill="#0a549e"/>
<rect x="260.96" y="1540.03" width="47.43" height="32.29" fill="#084c95"/>
<rect x="308.09" y="1540.03" width="47.43" height="32.29" fill="#084488"/>
<rect x="355.22" y="1540.03" width="47.43" height="32.29" fill="#083e81"/>
<rect x="402.35" y="1540.03" width="47.43" height="32.29" fill="#083b7c"/>
<rect x="449.48" y="1540.03" width="47.43" height="32.29" fill="#083d7f"/>
<rect x="496.61" y="1540.03" width="47.43" height="32.29" fill="#08468b"/>
<rect x="543.74" y="1540.03" width="47.43" height="32.29" fill="#0a549e"/>
<rect x="590.87" y="1540.03" width="47.43" height="32.29" fill="#1b69af"/>
<rect x="638.00" y="1540.03" width="47.43" height="32.29" fill="#3585bf"/>
<rect x="685.13" y="1540.03" width="47.43" height="32.29" fill="#5da5d1"/>
<rect x="732.26" y="1540.03" width="47.43" height="32.29" fill="#aed1e7"/>
<rect x="779.39" y="1540.03" width="47.43" height="32.29" fill="#eaf3fb"/>
<rect x="166.70" y="1572.03" width="47.43" height="32.29" fill="#1d6cb1"/>
<rect x="213.83" y="1572.03" width="47.43" height="32.29" fill="#1460a8"/>
<rect x="260.96" y="1572.03" width="47.43" height="32.29" fill="#0a549e"/>
<rect x="308.09" y="1572.03" width="47.43" height="32.29" fill="#084a91"/>
<rect x="355.22" y="1572.03" width="47.43" height="32.29" fill="#084082"/>
<rect x="402.35" y="1572.03" width="47.43" height="32.29" fill="#083877"/>
<rect x="449.48" y="1572.03" width="47.43" height="32.29" fill="#083573"/>
<rect x="496.61" y="1572.03" width="47.43" height="32.29" fill="#083776"/>
<rect x="543.74" y="1572.03" width="47.43" height="32.29" fill="#084184"/>
<rect x="590.87" y="1572.03" width="47.43" height="32.29" fill="#08509b"/>
<rect x="638.00" y="1572.03" width="47.43" height="32.29" fill="#1865ac"/>
<rect x="685.13" y="1572.03" width="47.43" height="32.29" fill="#3282be"/>
<rect x="732.26" y="1572.03" width="47.43" height="32.29" fill="#69add5"/>
<rect x="779.39" y="1572.03" width="47.43" height="32.29" fill="#bdd7ec"/>
<rect x="166.70" y="1604.02" width="47.43" height="32.29" fill="#3282be"/>
<rect x="213.83" y="1604.02" width="47.43" height="32.29" fill="#2171b5"/>
<rect x="260.96" y="1604.02" width="47.43" height="32.29" fill="#1663aa"/>
<rect x="308.09" y="1604.02" width="47.43" height="32.29" fill="#0c56a0"/>
<rect x="355.22" y="1604.02" width="47.43" height="32.29" fill="#084990"/>
<rect x="402.35" y="1604.02" width="47.43" height="32.29" fill="#083c7d"/>
<rect x="449.48" y="1604.02" width="47.43" height="32.29" fill="#083471"/>
<rect x="496.61" y="1604.02" width="47.43" height="32.29" fill="#08326e"/>
<rect x="543.74" y="1604.02" width="47.43" height="32.29" fill="#083573"/>
<rect x="590.87" y="1604.02" width="47.43" height="32.29" fill="#083e81"/>
<rect x="638.00" y="1604.02" width="47.43" height="32.29" fill="#084f99"/>
<rect x="685.13" y="1604.02" width="47.43" height="32.29" fill="#1764ab"/>
<rect x="732.26" y="1604.02" width="47.43" height="32.29" fill="#3a8ac2"/>
<rect x="779.39" y="1604.02" width="47.43" height="32.29" fill="#7ab6d9"/>
<rect x="826.52" y="1604.02" width="47.43" height="32.29" fill="#cde0f1"/>
<rect x="166.70" y="1636.01" width="47.43" height="32.29" fill="#4f9bcb"/>
<rect x="213.83" y="1636.01" width="47.43" height="32.29" fill="#3b8bc2"/>
<rect x="260.96" y="1636.01" width="47.43" height="32.29" fill="#2979b9"/>
<rect x="308.09" y="1636.01" width="47.43" height="32.29" fill="#1a68ae"/>
<rect x="355.22" y="1636.01" width="47.43" height="32.29" fill="#0e58a2"/>
<rect x="402.35" y="1636.01" width="47.43" height="32.29" fill="#08488e"/>
<rect x="449.48" y="1636.01" width="47.43" height="32.29" fill="#083b7c"/>
<rect x="496.61" y="1636.01" width="47.43" height="32.29" fill="#083370"/>
<rect x="543.74" y="1636.01" width="47.43" height="32.29" fill="#08316d"/>
<rect x="590.87" y="1636.01" width="47.43" height="32.29" fill="#083573"/>
<rect x="638.00" y="1636.01" width="47.43" height="32.29" fill="#084082"/>
<rect x="685.13" y="1636.01" width="47.43" height="32.29" fill="#084f99"/>
<rect x="732.26" y="1636.01" width="47.43" height="32.29" fill="#1d6cb1"/>
<rect x="779.39" y="1636.01" width="47.43" height="32.29" fill="#4695c8"/>
<rect x="826.52" y="1636.01" width="47.43" height="32.29" fill="#95c5df"/>
<rect x="873.65" y="1636.01" width="47.43" height="32.29" fill="#ddeaf7"/>
<rect x="166.70" y="1668.01" width="47.43" height="32.29" fill="#7db8da"/>
<rect x="213.83" y="1668.01" width="47.43" height="32.29" fill="#61a7d2"/>
<rect x="260.96" y="1668.01" width="47.43" height="32.29" fill="#4695c8"/>
<rect x="308.09" y="1668.01" width="47.43" height="32.29" fill="#3383be"/>
<rect x="355.22" y="1668.01" width="47.43" height="32.29" fill="#1f6eb3"/>
<rect x="402.35" y="1668.01" width="47.43" height="32.29" fill="#0f5aa3"/>
<rect x="449.48" y="1668.01" width="47.43" height="32.29" fill="#084a91"/>
<rect x="496.61" y="1668.01" width="47.43" height="32.29" fill="#083c7d"/>
<rect x="543.74" y="1668.01" width="47.43" height="32.29" fill="#083573"/>
<rect x="590.87" y="1668.01" width="47.43" height="32.29" fill="#083471"/>
<rect x="638.00" y="1668.01" width="47.43" height="32.29" fill="#083877"/>
<rect x="685.13" y="1668.01" width="47.43" height="32.29" fill="#084387"/>
<rect x="732.26" y="1668.01" width="47.43" height="32.29" fill="#0d57a1"/>
<rect x="779.39" y="1668.01" width="47.43" height="32.29" fill="#2676b8"/>
<rect x="826.52" y="1668.01" width="47.43" height="32.29" fill="#5ba3d0"/>
<rect x="873.65" y="1668.01" width="47.43" height="32.29" fill="#b0d2e7"/>
<rect x="920.78" y="1668.01" width="47.43" height="32.29" fill="#f0f6fd"/>
<rect x="166.70" y="1700.00" width="47.43" height="32.29" fill="#b4d3e9"/>
<rect x="213.83" y="1700.00" width="47.43" height="32.29" fill="#9cc9e1"/>
<rect x="260.96" y="1700.00" width="47.43" height="32.29" fill="#75b4d8"/>
<rect x="308.09" y="1700.00" width="47.43" height="32.29" fill="#58a1cf"/>
<rect x="355.22" y="1700.00" width="47.43" height="32.29" fill="#3c8cc3"/>
<rect x="402.35" y="1700.00" width="47.43" height="32.29" fill="#2373b6"/>
<rect x="449.48" y="1700.00" width="47.43" height="32.29" fill="#135fa7"/>
<rect x="496.61" y="1700.00" width="47.43" height="32.29" fill="#084e98"/>
<rect x="543.74" y="1700.00" width="47.43" height="32.29" fill="#084285"/>
<rect x="590.87" y="1700.00" width="47.43" height="32.29" fill="#083b7c"/>
<rect x="638.00" y="1700.00" width="47.43" height="32.29" fill="#083a7a"/>
<rect x="685.13" y="1700.00" width="47.43" height="32.29" fill="#083e81"/>
<rect x="732.26" y="1700.00" width="47.43" height="32.29" fill="#084b93"/>
<rect x="779.39" y="1700.00" width="47.43" height="32.29" fill="#1460a8"/>
<rect x="826.52" y="1700.00" width="47.43" height="32.29" fill="#3686c0"/>
<rect x="873.65" y="1700.00" width="47.43" height="32.29" fill="#75b4d8"/>
<rect x="920.78" y="1700.00" width="47.43" height="32.29" fill="#cadef0"/>
<rect x="166.70" y="1731.99" width="47.43" height="32.29" fill="#ddeaf7"/>
<rect x="213.83" y="1731.99" width="47.43" height="32.29" fill="#cee0f2"/>
<rect x="260.96" y="1731.99" width="47.43" height="32.29" fill="#b3d3e8"/>
<rect x="308.09" y="1731.99" width="47.43" height="32.29" fill="#92c4de"/>
<rect x="355.22" y="1731.99" width="47.43" height="32.29" fill="#69add5"/>
<rect x="402.35" y="1731.99" width="47.43" height="32.29" fill="#4695c8"/>
<rect x="449.48" y="1731.99" width="47.43" height="32.29" fill="#2d7dbb"/>
<rect x="496.61" y="1731.99" width="47.43" height="32.29" fill="#1966ad"/>
<rect x="543.74" y="1731.99" width="47.43" height="32.29" fill="#0b559f"/>
<rect x="590.87" y="1731.99" width="47.43" height="32.29" fill="#084a91"/>
<rect x="638.00" y="1731.99" width="47.43" height="32.29" fill="#084387"/>
<rect x="685.13" y="1731.99" width="47.43" height="32.29" fill="#084387"/>
<rect x="732.26" y="1731.99" width="47.43" height="32.29" fill="#08478d"/>
<rect x="779.39" y="1731.99" width="47.43" height="32.29" fill="#0a539e"/>
<rect x="826.52" y="1731.99" width="47.43" height="32.29" fill="#206fb4"/>
<rect x="873.65" y="1731.99" width="47.43" height="32.29" fill="#4b98ca"/>
<rect x="920.78" y="1731.99" width="47.43" height="32.29" fill="#99c7e0"/>
<rect x="967.91" y="1731.99" width="47.43" height="32.29" fill="#e1edf8"/>
<rect x="213.83" y="1763.99" width="47.43" height="32.29" fill="#f5fafe"/>
<rect x="260.96" y="1763.99" width="47.43" height="32.29" fill="#dfebf7"/>
<rect x="308.09" y="1763.99" width="47.43" height="32.29" fill="#cbdef1"/>
<rect x="355.22" y="1763.99" width="47.43" height="32.29" fill="#aacfe5"/>
<rect x="402.35" y="1763.99" width="47.43" height="32.29" fill="#7cb7da"/>
<rect x="449.48" y="1763.99" width="47.43" height="32.29" fill="#56a0ce"/>
<rect x="496.61" y="1763.99" width="47.43" height="32.29" fill="#3686c0"/>
<rect x="543.74" y="1763.99" width="47.43" height="32.29" fill="#2070b4"/>
<rect x="590.87" y="1763.99" width="47.43" height="32.29" fill="#135fa7"/>
<rect x="638.00" y="1763.99" width="47.43" height="32.29" fill="#09529d"/>
<rect x="685.13" y="1763.99" width="47.43" height="32.29" fill="#084d96"/>
<rect x="732.26" y="1763.99" width="47.43" height="32.29" fill="#084a91"/>
<rect x="779.39" y="1763.99" width="47.43" height="32.29" fill="#084e98"/>
<rect x="826.52" y="1763.99" width="47.43" height="32.29" fill="#1562a9"/>
<rect x="873.65" y="1763.99" width="47.43" height="32.29" fill="#3282be"/>
<rect x="920.78" y="1763.99" width="47.43" height="32.29" fill="#66abd4"/>
<rect x="967.91" y="1763.99" width="47.43" height="32.29" fill="#bad6eb"/>
<rect x="308.09" y="1795.98" width="47.43" height="32.29" fill="#f4f9fe"/>
<rect x="355.22" y="1795.98" width="47.43" height="32.29" fill="#dbe9f6"/>
<rect x="402.35" y="1795.98" width="47.43" height="32.29" fill="#bed8ec"/>
<rect x="449.48" y="1795.98" width="47.43" height="32.29" fill="#95c5df"/>
<rect x="496.61" y="1795.98" width="47.43" height="32.29" fill="#65aad4"/>
<rect x="543.74" y="1795.98" width="47.43" height="32.29" fill="#4493c7"/>
<rect x="590.87" y="1795.98" width="47.43" height="32.29" fill="#2e7ebc"/>
<rect x="638.00" y="1795.98" width="47.43" height="32.29" fill="#1b69af"/>
<rect x="685.13" y="1795.98" width="47.43" height="32.29" fill="#125ea6"/>
<rect x="732.26" y="1795.98" width="47.43" height="32.29" fill="#0b559f"/>
<rect x="779.39" y="1795.98" width="47.43" height="32.29" fill="#09529d"/>
<rect x="826.52" y="1795.98" width="47.43" height="32.29" fill="#125da6"/>
<rect x="873.65" y="1795.98" width="47.43" height="32.29" fill="#2373b6"/>
<rect x="920.78" y="1795.98" width="47.43" height="32.29" fill="#4896c8"/>
<rect x="967.91" y="1795.98" width="47.43" height="32.29" fill="#8abfdd"/>
<rect x="1015.04" y="1795.98" width="47.43" height="32.29" fill="#d4e4f4"/>
<rect x="402.35" y="1827.97" width="47.43" height="32.29" fill="#eaf3fb"/>
<rect x="449.48" y="1827.97" width="47.43" height="32.29" fill="#d0e2f2"/>
<rect x="496.61" y="1827.97" width="47.43" height="32.29" fill="#aacfe5"/>
<rect x="543.74" y="1827.97" width="47.43" height="32.29" fill="#7cb7da"/>
<rect x="590.87" y="1827.97" width="47.43" height="32.29" fill="#57a0ce"/>
<rect x="638.00" y="1827.97" width="47.43" height="32.29" fill="#3888c1"/>
<rect x="685.13" y="1827.97" width="47.43" height="32.29" fill="#2777b8"/>
<rect x="732.26" y="1827.97" width="47.43" height="32.29" fill="#1966ad"/>
<rect x="779.39" y="1827.97" width="47.43" height="32.29" fill="#115ca5"/>
<rect x="826.52" y="1827.97" width="47.43" height="32.29" fill="#135fa7"/>
<rect x="873.65" y="1827.97" width="47.43" height="32.29" fill="#1e6db2"/>
<rect x="920.78" y="1827.97" width="47.43" height="32.29" fill="#3686c0"/>
<rect x="967.91" y="1827.97" width="47.43" height="32.29" fill="#63a8d3"/>
<rect x="1015.04" y="1827.97" width="47.43" height="32.29" fill="#aed1e7"/>
<rect x="496.61" y="1859.97" width="47.43" height="32.29" fill="#ddeaf7"/>
<rect x="543.74" y="1859.97" width="47.43" height="32.29" fill="#c1d9ed"/>
<rect x="590.87" y="1859.97" width="47.43" height="32.29" fill="#9ac8e0"/>
<rect x="638.00" y="1859.97" width="47.43" height="32.29" fill="#64a9d3"/>
<rect x="685.13" y="1859.97" width="47.43" height="32.29" fill="#4997c9"/>
<rect x="732.26" y="1859.97" width="47.43" height="32.29" fill="#2f7fbc"/>
<rect x="779.39" y="1859.97" width="47.43" height="32.29" fill="#1e6db2"/>
<rect x="826.52" y="1859.97" width="47.43" height="32.29" fill="#1c6ab0"/>
<rect x="873.65" y="1859.97" width="47.43" height="32.29" fill="#206fb4"/>
<rect x="920.78" y="1859.97" width="47.43" height="32.29" fill="#2f7fbc"/>
<rect x="967.91" y="1859.97" width="47.43" height="32.29" fill="#4d99ca"/>
<rect x="1015.04" y="1859.97" width="47.43" height="32.29" fill="#84bcdb"/>
<rect x="1062.17" y="1859.97" width="47.43" height="32.29" fill="#d3e4f3"/>
<rect x="543.74" y="1891.96" width="47.43" height="32.29" fill="#eef5fc"/>
<rect x="590.87" y="1891.96" width="47.43" height="32.29" fill="#d3e3f3"/>
<rect x="638.00" y="1891.96" width="47.43" height="32.29" fill="#a6cee4"/>
<rect x="685.13" y="1891.96" width="47.43" height="32.29" fill="#7cb7da"/>
<rect x="732.26" y="1891.96" width="47.43" height="32.29" fill="#539ecd"/>
<rect x="779.39" y="1891.96" width="47.43" height="32.29" fill="#3686c0"/>
<rect x="826.52" y="1891.96" width="47.43" height="32.29" fill="#2c7cba"/>
<rect x="873.65" y="1891.96" width="47.43" height="32.29" fill="#2a7ab9"/>
<rect x="920.78" y="1891.96" width="47.43" height="32.29" fill="#3181bd"/>
<rect x="967.91" y="1891.96" width="47.43" height="32.29" fill="#4191c6"/>
<rect x="1015.04" y="1891.96" width="47.43" height="32.29" fill="#66abd4"/>
<rect x="1062.17" y="1891.96" width="47.43" height="32.29" fill="#aed1e7"/>
<rect x="638.00" y="1923.95" width="47.43" height="32.29" fill="#d9e8f5"/>
<rect x="685.13" y="1923.95" width="47.43" height="32.29" fill="#bcd7eb"/>
<rect x="732.26" y="1923.95" width="47.43" height="32.29" fill="#8abfdd"/>
<rect x="779.39" y="1923.95" width="47.43" height="32.29" fill="#5ca4d0"/>
<rect x="826.52" y="1923.95" width="47.43" height="32.29" fill="#4594c7"/>
<rect x="873.65" y="1923.95" width="47.43" height="32.29" fill="#3b8bc2"/>
<rect x="920.78" y="1923.95" width="47.43" height="32.29" fill="#3989c1"/>
<rect x="967.91" y="1923.95" width="47.43" height="32.29" fill="#4191c6"/>
<rect x="1015.04" y="1923.95" width="47.43" height="32.29" fill="#5aa2cf"/>
<rect x="1062.17" y="1923.95" width="47.43" height="32.29" fill="#8abfdd"/>
<rect x="685.13" y="1955.95" width="47.43" height="32.29" fill="#e7f1fa"/>
<rect x="732.26" y="1955.95" width="47.43" height="32.29" fill="#c7dbef"/>
<rect x="779.39" y="1955.95" width="47.43" height="32.29" fill="#95c5df"/>
<rect x="826.52" y="1955.95" width="47.43" height="32.29" fill="#6fb0d7"/>
<rect x="873.65" y="1955.95" width="47.43" height="32.29" fill="#58a1cf"/>
<rect x="920.78" y="1955.95" width="47.43" height="32.29" fill="#4d99ca"/>
<rect x="967.91" y="1955.95" width="47.43" height="32.29" fill="#4b98ca"/>
<rect x="1015.04" y="1955.95" width="47.43" height="32.29" fill="#58a1cf"/>
<rect x="1062.17" y="1955.95" width="47.43" height="32.29" fill="#74b3d8"/>
<rect x="732.26" y="1987.94" width="47.43" height="32.29" fill="#eef5fc"/>
<rect x="779.39" y="1987.94" width="47.43" height="32.29" fill="#cddff1"/>
<rect x="826.52" y="1987.94" width="47.43" height="32.29" fill="#aacfe5"/>
<rect x="873.65" y="1987.94" width="47.43" height="32.29" fill="#85bcdc"/>
<rect x="920.78" y="1987.94" width="47.43" height="32.29" fill="#6aaed6"/>
<rect x="967.91" y="1987.94" width="47.43" height="32.29" fill="#60a7d2"/>
<rect x="1015.04" y="1987.94" width="47.43" height="32.29" fill="#61a7d2"/>
<rect x="1062.17" y="1987.94" width="47.43" height="32.29" fill="#6fb0d7"/>
<rect x="779.39" y="2019.93" width="47.43" height="32.29" fill="#f5f9fe"/>
<rect x="826.52" y="2019.93" width="47.43" height="32.29" fill="#d8e7f5"/>
<rect x="873.65" y="2019.93" width="47.43" height="32.29" fill="#bcd7eb"/>
<rect x="920.78" y="2019.93" width="47.43" height="32.29" fill="#9dcae1"/>
<rect x="967.91" y="2019.93" width="47.43" height="32.29" fill="#82bbdb"/>
<rect x="1015.04" y="2019.93" width="47.43" height="32.29" fill="#75b4d8"/>
<rect x="1062.17" y="2019.93" width="47.43" height="32.29" fill="#79b5d9"/>
<rect x="873.65" y="2051.93" width="47.43" height="32.29" fill="#e3eef9"/>
<rect x="920.78" y="2051.93" width="47.43" height="32.29" fill="#cadef0"/>
<rect x="967.91" y="2051.93" width="47.43" height="32.29" fill="#afd1e7"/>
<rect x="1015.04" y="2051.93" width="47.43" height="32.29" fill="#99c7e0"/>
<rect x="1062.17" y="2051.93" width="47.43" height="32.29" fill="#8fc2de"/>
<rect x="920.78" y="2083.92" width="47.43" height="32.29" fill="#eef5fc"/>
<rect x="967.91" y="2083.92" width="47.43" height="32.29" fill="#d5e5f4"/>
<rect x="1015.04" y="2083.92" width="47.43" height="32.29" fill="#bfd8ed"/>
<rect x="1062.17" y="2083.92" width="47.43" height="32.29" fill="#abd0e6"/>
<rect x="1015.04" y="2115.91" width="47.43" height="32.29" fill="#deebf7"/>
<rect x="1062.17" y="2115.91" width="47.43" height="32.29" fill="#ccdff1"/>
<rect x="1062.17" y="2147.91" width="47.43" height="32.29" fill="#e7f0fa"/>
</g>
<g fill="none" stroke="#fff" stroke-width="6.6" stroke-linejoin="miter" stroke-linecap="butt">
<polyline points="477.5,1499.8 425.9,1481.5 378.7,1465.2 331.6,1456.4 284.4,1446.4 237.2,1438.9 190.3,1442.1"/>
<polyline points="190.3,1553.5 237.2,1583.1 284.4,1610.7 331.6,1631.5 370.7,1651.5 400.0,1666.5 450.2,1695.3 500.4,1720.4 540.5,1739.2 575.6,1760.6 615.8,1779.4 663.4,1798.2 701.5,1816.2 755.6,1835.8 802.2,1848.8 851.6,1848.8 866.5,1838.6 865.5,1812.5 852.5,1777.1 826.4,1743.5 804.0,1711.8 755.6,1674.6 701.5,1630.0 650.9,1588.0 586.9,1550.4"/>
<polyline points="374.5,1622.0 331.6,1594.4 320.5,1588.2 284.4,1564.3 274.1,1556.3 250.3,1524.2 267.8,1492.3 284.4,1489.1 331.6,1490.3 378.7,1494.8 425.9,1504.1 473.1,1520.4 520.4,1543.0 575.6,1573.0 615.8,1592.5 665.2,1623.2 710.3,1658.1 749.0,1692.9 768.4,1714.8 787.7,1740.0 797.0,1760.0 804.0,1781.0 755.6,1796.6 701.5,1778.9 663.4,1765.6 615.8,1745.5 560.6,1720.4 520.4,1699.1 479.0,1679.8"/>
<polyline points="560.6,1692.8 520.4,1667.7 475.3,1645.5 427.6,1621.5 420.9,1615.8 384.5,1588.2 364.4,1556.3 378.7,1540.5 425.9,1537.5 473.1,1552.0 520.4,1573.0 568.1,1593.0 615.8,1616.5 663.4,1650.0 695.9,1685.7 716.4,1713.7 708.0,1746.3 669.8,1739.5"/>
</g>
<text x="532.8" y="1537.2" transform="rotate(25.5 534.0 1518.5)" font-size="51.5" fill="#fff" stroke="#fff" stroke-width="1.1" stroke-linejoin="round" text-anchor="middle">4σ</text>
<text x="424.5" y="1663.7" transform="rotate(26 425.7 1645.0)" font-size="51.5" fill="#fff" stroke="#fff" stroke-width="1.1" stroke-linejoin="round" text-anchor="middle">3σ</text>
<text x="613.1" y="1730.2" transform="rotate(22 614.3 1711.5)" font-size="51.5" fill="#fff" stroke="#fff" stroke-width="1.1" stroke-linejoin="round" text-anchor="middle">2σ</text>
<g stroke="#000" stroke-width="2" fill="none">
<path d="M213.8 2179.9v-8.5M213.8 1220.1v8.5"/>
<path d="M261.0 2179.9v-8.5M261.0 1220.1v8.5"/>
<path d="M308.1 2179.9v-8.5M308.1 1220.1v8.5"/>
<path d="M355.2 2179.9v-8.5M355.2 1220.1v8.5"/>
<path d="M402.3 2179.9v-16.8M402.3 1220.1v16.8"/>
<path d="M449.5 2179.9v-8.5M449.5 1220.1v8.5"/>
<path d="M496.6 2179.9v-8.5M496.6 1220.1v8.5"/>
<path d="M543.7 2179.9v-8.5M543.7 1220.1v8.5"/>
<path d="M590.9 2179.9v-8.5M590.9 1220.1v8.5"/>
<path d="M638.0 2179.9v-16.8M638.0 1220.1v16.8"/>
<path d="M685.1 2179.9v-8.5M685.1 1220.1v8.5"/>
<path d="M732.3 2179.9v-8.5M732.3 1220.1v8.5"/>
<path d="M779.4 2179.9v-8.5M779.4 1220.1v8.5"/>
<path d="M826.5 2179.9v-8.5M826.5 1220.1v8.5"/>
<path d="M873.6 2179.9v-16.8M873.6 1220.1v16.8"/>
<path d="M920.8 2179.9v-8.5M920.8 1220.1v8.5"/>
<path d="M967.9 2179.9v-8.5M967.9 1220.1v8.5"/>
<path d="M1015.0 2179.9v-8.5M1015.0 1220.1v8.5"/>
<path d="M1062.2 2179.9v-8.5M1062.2 1220.1v8.5"/>
<path d="M166.7 2115.9h16.8M1109.3 2115.9h-16.8"/>
<path d="M166.7 2051.9h8.5M1109.3 2051.9h-8.5"/>
<path d="M166.7 1987.9h16.8M1109.3 1987.9h-16.8"/>
<path d="M166.7 1924.0h8.5M1109.3 1924.0h-8.5"/>
<path d="M166.7 1860.0h16.8M1109.3 1860.0h-16.8"/>
<path d="M166.7 1796.0h8.5M1109.3 1796.0h-8.5"/>
<path d="M166.7 1732.0h16.8M1109.3 1732.0h-16.8"/>
<path d="M166.7 1668.0h8.5M1109.3 1668.0h-8.5"/>
<path d="M166.7 1604.0h16.8M1109.3 1604.0h-16.8"/>
<path d="M166.7 1540.0h8.5M1109.3 1540.0h-8.5"/>
<path d="M166.7 1476.0h16.8M1109.3 1476.0h-16.8"/>
<path d="M166.7 1412.1h8.5M1109.3 1412.1h-8.5"/>
<path d="M166.7 1348.1h16.8M1109.3 1348.1h-16.8"/>
<path d="M166.7 1284.1h8.5M1109.3 1284.1h-8.5"/>
</g>
<rect x="166.7" y="1220.1" width="942.6" height="959.8" fill="none" stroke="#000" stroke-width="4.6"/>
<g font-size="50.8" fill="#000" stroke="#000" stroke-width="1.1" stroke-linejoin="round">
<text x="129.4" y="2236.2">0.0</text>
<text x="365.6" y="2236.2">0.5</text>
<text x="602.4" y="2236.2">1.0</text>
<text x="838.7" y="2236.2">1.5</text>
<text x="1072.8" y="2236.2">2.0</text>
<text x="77.7" y="2130.6">0.6</text>
<text x="78.0" y="2002.6">0.8</text>
<text x="77.9" y="1874.7">1.0</text>
<text x="79.6" y="1746.7">1.2</text>
<text x="77.3" y="1618.7">1.4</text>
<text x="77.7" y="1490.7">1.6</text>
<text x="78.0" y="1362.8">1.8</text>
<text x="76.1" y="1233.3">2.0</text>
</g>
<text transform="translate(594.33 2315.91) scale(0.6267 0.5596)" font-size="100" fill="#000" stroke="#000" stroke-width="1.85" stroke-linejoin="round" style="font-style:oblique">α</text>
<text transform="translate(633.46 2324.92) scale(0.3761 0.4181)" font-size="100" fill="#000" stroke="#000" stroke-width="2.77" stroke-linejoin="round" style="">bd</text>
<text transform="translate(36.51 1748.17) rotate(-90) scale(0.6267 0.5596)" font-size="100" fill="#000" stroke="#000" stroke-width="1.85" stroke-linejoin="round" style="font-style:oblique">α</text>
<text transform="translate(45.77 1708.90) rotate(-90) scale(0.3609 0.3878)" font-size="100" fill="#000" stroke="#000" stroke-width="2.94" stroke-linejoin="round" style="">ms</text>
<text x="-3.4" y="1239.2" font-size="69" font-weight="bold" fill="#000">b</text>
<rect x="1168.7" y="1220.1" width="47.8" height="959.8" fill="url(#cb)" stroke="#000" stroke-width="4.6"/>
<g stroke="#000" stroke-width="2">
<path d="M1216.5 2083.9h-16.8"/>
<path d="M1216.5 1987.9h-16.8"/>
<path d="M1216.5 1892.0h-16.8"/>
<path d="M1216.5 1796.0h-16.8"/>
<path d="M1216.5 1700.0h-16.8"/>
<path d="M1216.5 1604.0h-16.8"/>
<path d="M1216.5 1508.0h-16.8"/>
<path d="M1216.5 1412.1h-16.8"/>
<path d="M1216.5 1316.1h-16.8"/>
</g>
<g font-size="50.8" fill="#000" stroke="#000" stroke-width="1.1" stroke-linejoin="round">
<text x="1234.2" y="2194.6">0</text>
<text x="1232.0" y="2098.6">10</text>
<text x="1233.8" y="2002.6">20</text>
<text x="1233.6" y="1906.7">30</text>
<text x="1235.1" y="1810.7">40</text>
<text x="1233.6" y="1714.7">50</text>
<text x="1234.0" y="1618.7">60</text>
<text x="1233.3" y="1522.7">70</text>
<text x="1234.1" y="1426.8">80</text>
<text x="1234.4" y="1330.8">90</text>
<text x="1232.0" y="1234.8">100</text>
</g>
<text transform="translate(1383.75 1745.20) rotate(-90) scale(0.4451 0.4575)" font-size="100" fill="#000" stroke="#000" stroke-width="2.44" stroke-linejoin="round" style="">Δ</text>
<text transform="translate(1387 1714.8) rotate(-90)" font-size="46" fill="#000" stroke="#000" stroke-width="1.1" style="font-style:oblique">χ</text>
<text transform="translate(1367.55 1686.67) rotate(-90) scale(0.2957 0.3203)" font-size="100" fill="#000" stroke="#000" stroke-width="3.57" stroke-linejoin="round" style="">2</text>
</g>
</svg></body></html>
